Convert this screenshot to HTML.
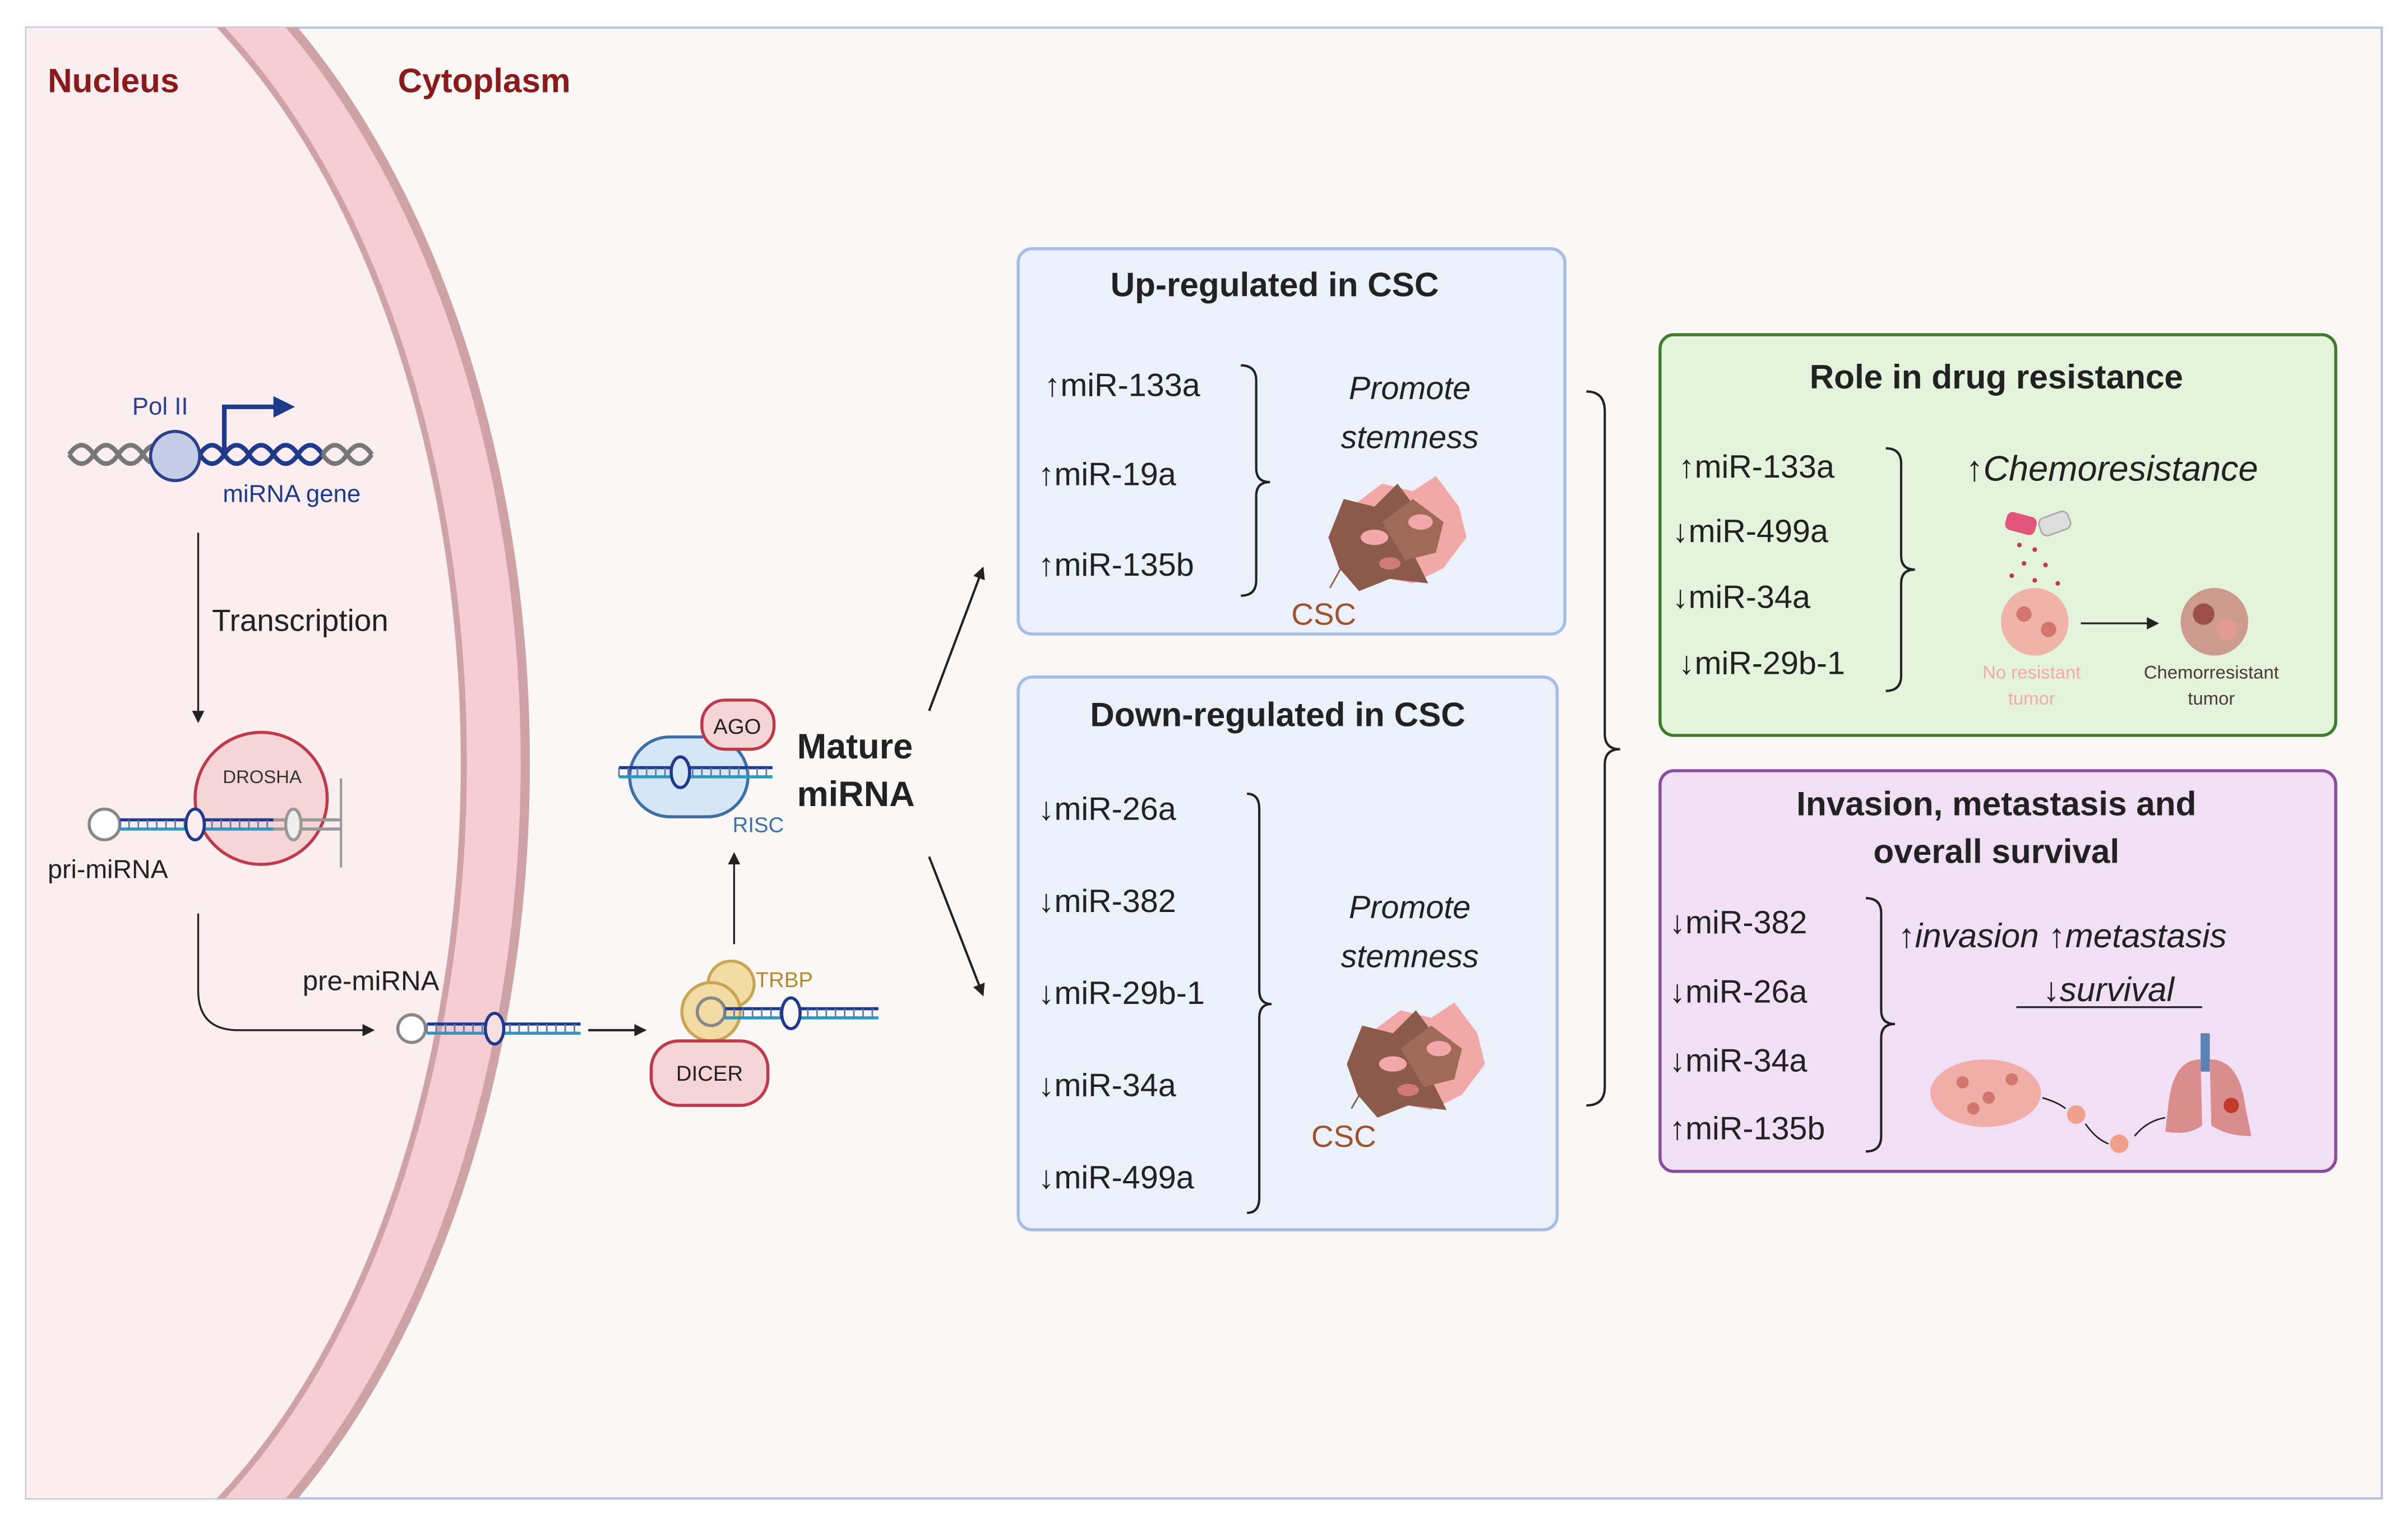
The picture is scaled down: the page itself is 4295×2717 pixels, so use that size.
<!DOCTYPE html>
<html><head><meta charset="utf-8"><style>
html,body{margin:0;padding:0;background:#fff;width:4295px;height:2717px;overflow:hidden;}
svg{display:block;}
text{font-family:"Liberation Sans",sans-serif;}
</style></head><body>
<svg width="4295" height="2717" viewBox="0 0 1568 992" xmlns="http://www.w3.org/2000/svg">
<defs>
<clipPath id="c"><rect x="17" y="18" width="1534" height="958"/></clipPath>
<marker id="ah" markerWidth="8" markerHeight="8" refX="7" refY="4" orient="auto" markerUnits="userSpaceOnUse"><path d="M0,0 L8,4 L0,8 z" fill="#222"/></marker>
<g id="cell">
<path d="M-40,10 L-30,-15 L-10,-30 L10,-25 L25,-35 L40,-15 L45,5 L30,25 L10,35 L-15,30 L-35,28 z" fill="#f1a9a8"/>
<path d="M-45,5 L-35,-20 L-15,-15 L0,-30 L15,-10 L10,15 L20,35 L-5,32 L-25,40 L-38,25 z" fill="#8c5a4a"/>
<path d="M-10,-5 L10,-20 L30,-5 L25,15 L5,20 z" fill="#a06a58"/>
<ellipse cx="-15" cy="5" rx="9" ry="5" fill="#f3a7a8"/>
<ellipse cx="15" cy="-5" rx="8" ry="5" fill="#f3a7a8"/>
<ellipse cx="-5" cy="22" rx="7" ry="4" fill="#d27a78"/>
</g>
<g id="hp">
<line x1="0" y1="-3" x2="100" y2="-3" stroke="#1f3a8a" stroke-width="2"/>
<line x1="0" y1="3" x2="100" y2="3" stroke="#2a9ac0" stroke-width="2"/>
<path d="M0,-3 V3 M6,-3 V3 M12,-3 V3 M18,-3 V3 M24,-3 V3 M30,-3 V3 M36,-3 V3 M42,-3 V3 M48,-3 V3 M54,-3 V3 M60,-3 V3 M66,-3 V3 M72,-3 V3 M78,-3 V3 M84,-3 V3 M90,-3 V3 M96,-3 V3" stroke="#5a7ab0" stroke-width="1"/>
</g>
</defs>
<rect x="0" y="0" width="1568" height="992" fill="#fff"/>
<rect x="17" y="18" width="1534" height="958" fill="#faf8f7" stroke="#b8c4dc" stroke-width="1.5"/>
<g clip-path="url(#c)">
<ellipse cx="-40" cy="497" rx="385" ry="600" fill="#fbeef0"/>
<ellipse cx="-40" cy="497" rx="362" ry="585" fill="none" stroke="#f6cdd0" stroke-width="36"/>
<ellipse cx="-40" cy="497" rx="382" ry="600" fill="none" stroke="#cfa2a6" stroke-width="6"/>
<ellipse cx="-40" cy="497" rx="342" ry="568" fill="none" stroke="#cfa2a6" stroke-width="4"/>
</g>
<text x="31" y="60" font-size="22" font-weight="bold" fill="#8b1a1a">Nucleus</text>
<text x="259" y="60" font-size="22" font-weight="bold" fill="#8b1a1a">Cytoplasm</text>

<path d="M45,296 q8,-12 16,0 t16,0 t16,0 t16,0" stroke="#777" stroke-width="3" fill="none"/>
<path d="M45,296 q8,12 16,0 t16,0 t16,0 t16,0" stroke="#777" stroke-width="3" fill="none"/>
<path d="M130,296 q8,-12 16,0 t16,0 t16,0 t16,0 t16,0" stroke="#1f3a8a" stroke-width="3" fill="none"/>
<path d="M130,296 q8,12 16,0 t16,0 t16,0 t16,0 t16,0" stroke="#1f3a8a" stroke-width="3" fill="none"/>
<path d="M210,296 q8,-12 16,0 t16,0" stroke="#777" stroke-width="3" fill="none"/>
<path d="M210,296 q8,12 16,0 t16,0" stroke="#777" stroke-width="3" fill="none"/>
<circle cx="114" cy="297" r="16" fill="#c5cde6" stroke="#2c3e8c" stroke-width="2"/>
<path d="M146,296 V265 H180" stroke="#1f3a8a" stroke-width="3" fill="none"/>
<path d="M178,258 L192,265 L178,272 z" fill="#1f3a8a"/>
<text x="86" y="270" font-size="16" fill="#2c3e8c">Pol II</text>
<text x="145" y="327" font-size="16" fill="#1f3a8a">miRNA gene</text>
<line x1="129" y1="347" x2="129" y2="470" stroke="#222" stroke-width="1.2" marker-end="url(#ah)"/>
<text x="138" y="411" font-size="20" fill="#222">Transcription</text>

<circle cx="170" cy="520" r="43" fill="#f5d5d5" stroke="#c0394b" stroke-width="2"/>
<text x="145" y="510" font-size="12" fill="#333">DROSHA</text>
<circle cx="68" cy="537" r="10" fill="#fff" stroke="#888" stroke-width="2"/>
<use href="#hp" x="78" y="537"/>
<line x1="178" y1="534" x2="222" y2="534" stroke="#999" stroke-width="2"/>
<line x1="178" y1="540" x2="222" y2="540" stroke="#999" stroke-width="2"/>
<ellipse cx="127" cy="537" rx="6" ry="10" fill="#fbeef0" stroke="#1f3a8a" stroke-width="2"/>
<ellipse cx="191" cy="537" rx="5" ry="10" fill="#eee" stroke="#999" stroke-width="2"/>
<line x1="222" y1="507" x2="222" y2="565" stroke="#999" stroke-width="1.5"/>
<text x="31" y="572" font-size="17" fill="#222">pri-miRNA</text>
<path d="M129,595 V645 Q129,671 155,671 H243" stroke="#222" stroke-width="1.2" fill="none" marker-end="url(#ah)"/>
<text x="197" y="645" font-size="18" fill="#222">pre-miRNA</text>
<circle cx="268" cy="670" r="9" fill="#fff" stroke="#888" stroke-width="2"/>
<use href="#hp" x="278" y="670"/>
<ellipse cx="322" cy="670" rx="6" ry="10" fill="#f5dfe0" stroke="#1f3a8a" stroke-width="2"/>
<line x1="383" y1="671" x2="420" y2="671" stroke="#222" stroke-width="1.5" marker-end="url(#ah)"/>

<circle cx="476" cy="641" r="15" fill="#f3dca3" stroke="#c9a554" stroke-width="2"/>
<circle cx="463" cy="659" r="19" fill="#f3dca3" stroke="#c9a554" stroke-width="2"/>
<circle cx="463" cy="659" r="9" fill="none" stroke="#888" stroke-width="2"/>
<use href="#hp" x="472" y="660"/>
<ellipse cx="515" cy="660" rx="6" ry="10" fill="#faf8f7" stroke="#1f3a8a" stroke-width="2"/>
<text x="492" y="643" font-size="14" fill="#b58a2f">TRBP</text>
<rect x="424" y="678" width="76" height="42" rx="18" fill="#f5d5d5" stroke="#c0394b" stroke-width="2"/>
<text x="462" y="704" font-size="14" fill="#222" text-anchor="middle">DICER</text>
<line x1="478" y1="615" x2="478" y2="556" stroke="#222" stroke-width="1.2" marker-end="url(#ah)"/>

<rect x="410" y="480" width="77" height="52" rx="26" fill="#d6e6f6" stroke="#3f6fa8" stroke-width="2"/>
<use href="#hp" x="403" y="503"/>
<ellipse cx="443" cy="503" rx="6" ry="10" fill="#d6e6f6" stroke="#1f3a8a" stroke-width="2"/>
<rect x="457" y="456" width="47" height="32" rx="15" fill="#f5d5d5" stroke="#c0394b" stroke-width="2"/>
<text x="480" y="478" font-size="14" fill="#222" text-anchor="middle">AGO</text>
<text x="477" y="542" font-size="14" fill="#3f6fa8">RISC</text>
<text x="519" y="494" font-size="23" font-weight="bold" fill="#222">Mature</text>
<text x="519" y="525" font-size="23" font-weight="bold" fill="#222">miRNA</text>
<line x1="605" y1="463" x2="640" y2="370" stroke="#222" stroke-width="1.5" marker-end="url(#ah)"/>
<line x1="605" y1="558" x2="640" y2="648" stroke="#222" stroke-width="1.5" marker-end="url(#ah)"/>

<rect x="663" y="162" width="356" height="251" rx="9" fill="#eaf1fb" stroke="#a6bde6" stroke-width="2"/>
<text x="830" y="193" font-size="22" font-weight="bold" fill="#222" text-anchor="middle">Up-regulated in CSC</text>
<g font-size="21" fill="#222">
<text x="680" y="258">↑miR-133a</text>
<text x="676" y="316">↑miR-19a</text>
<text x="676" y="375">↑miR-135b</text>
</g>
<path d="M808,238 Q818,238 818,248 V305 Q818,314 827,314 Q818,314 818,323 V378 Q818,388 808,388" stroke="#222" stroke-width="1.5" fill="none"/>
<text x="918" y="260" font-size="21" font-style="italic" fill="#222" text-anchor="middle">Promote</text>
<text x="918" y="292" font-size="21" font-style="italic" fill="#222" text-anchor="middle">stemness</text>
<use href="#cell" x="910" y="345"/>
<line x1="866" y1="383" x2="876" y2="365" stroke="#8c5a4a" stroke-width="1"/>
<text x="862" y="407" font-size="20" fill="#a0522d" text-anchor="middle">CSC</text>

<rect x="663" y="441" width="351" height="360" rx="9" fill="#eaf1fb" stroke="#a6bde6" stroke-width="2"/>
<text x="832" y="473" font-size="22" font-weight="bold" fill="#222" text-anchor="middle">Down-regulated in CSC</text>
<g font-size="21" fill="#222">
<text x="676" y="534">↓miR-26a</text>
<text x="676" y="594">↓miR-382</text>
<text x="676" y="654">↓miR-29b-1</text>
<text x="676" y="714">↓miR-34a</text>
<text x="676" y="774">↓miR-499a</text>
</g>
<path d="M812,517 Q820,517 820,527 V645 Q820,654 828,654 Q820,654 820,663 V780 Q820,790 812,790" stroke="#222" stroke-width="1.5" fill="none"/>
<text x="918" y="598" font-size="21" font-style="italic" fill="#222" text-anchor="middle">Promote</text>
<text x="918" y="630" font-size="21" font-style="italic" fill="#222" text-anchor="middle">stemness</text>
<use href="#cell" x="922" y="688"/>
<line x1="880" y1="722" x2="890" y2="705" stroke="#8c5a4a" stroke-width="1"/>
<text x="875" y="747" font-size="20" fill="#a0522d" text-anchor="middle">CSC</text>

<path d="M1033,255 Q1045,255 1045,268 V478 Q1045,488 1055,488 Q1045,488 1045,498 V708 Q1045,720 1033,720" stroke="#222" stroke-width="1.5" fill="none"/>

<rect x="1081" y="218" width="440" height="261" rx="9" fill="#e4f3dc" stroke="#3f7d2a" stroke-width="2"/>
<text x="1300" y="253" font-size="22" font-weight="bold" fill="#222" text-anchor="middle">Role in drug resistance</text>
<g font-size="21" fill="#222">
<text x="1093" y="311">↑miR-133a</text>
<text x="1089" y="353">↓miR-499a</text>
<text x="1089" y="396">↓miR-34a</text>
<text x="1093" y="439">↓miR-29b-1</text>
</g>
<path d="M1228,292 Q1238,292 1238,302 V362 Q1238,371 1247,371 Q1238,371 1238,380 V440 Q1238,450 1228,450" stroke="#222" stroke-width="1.5" fill="none"/>
<text x="1280" y="313" font-size="23" font-style="italic" fill="#222">↑Chemoresistance</text>
<rect x="1306" y="335" width="20" height="12" rx="4" fill="#e0557a" transform="rotate(15 1316 341)"/>
<rect x="1328" y="335" width="20" height="12" rx="4" fill="#ddd" stroke="#aaa" stroke-width="1" transform="rotate(-20 1338 341)"/>
<g fill="#c0394b"><circle cx="1315" cy="355" r="1.5"/><circle cx="1325" cy="358" r="1.5"/><circle cx="1318" cy="367" r="1.5"/><circle cx="1332" cy="368" r="1.5"/><circle cx="1310" cy="375" r="1.5"/><circle cx="1325" cy="378" r="1.5"/><circle cx="1340" cy="380" r="1.5"/></g>
<circle cx="1325" cy="405" r="22" fill="#f1a49a" opacity="0.8"/>
<circle cx="1318" cy="400" r="5" fill="#d2776e"/><circle cx="1334" cy="410" r="5" fill="#d2776e"/>
<line x1="1355" y1="406" x2="1405" y2="406" stroke="#222" stroke-width="1.2" marker-end="url(#ah)"/>
<circle cx="1442" cy="405" r="22" fill="#c98a80" opacity="0.85"/>
<circle cx="1435" cy="400" r="7" fill="#9c4f48"/><circle cx="1450" cy="410" r="7" fill="#e09a8f"/>
<text x="1323" y="442" font-size="12" fill="#f2a9a9" text-anchor="middle">No resistant</text>
<text x="1323" y="459" font-size="12" fill="#f2a9a9" text-anchor="middle">tumor</text>
<text x="1440" y="442" font-size="12" fill="#4a3a36" text-anchor="middle">Chemorresistant</text>
<text x="1440" y="459" font-size="12" fill="#4a3a36" text-anchor="middle">tumor</text>

<rect x="1081" y="502" width="440" height="261" rx="9" fill="#f1dff6" stroke="#8e4a9f" stroke-width="2"/>
<text x="1300" y="531" font-size="22" font-weight="bold" fill="#222" text-anchor="middle">Invasion, metastasis and</text>
<text x="1300" y="562" font-size="22" font-weight="bold" fill="#222" text-anchor="middle">overall survival</text>
<g font-size="21" fill="#222">
<text x="1087" y="608">↓miR-382</text>
<text x="1087" y="653">↓miR-26a</text>
<text x="1087" y="698">↓miR-34a</text>
<text x="1087" y="742">↑miR-135b</text>
</g>
<path d="M1215,585 Q1225,585 1225,595 V658 Q1225,667 1234,667 Q1225,667 1225,676 V740 Q1225,750 1215,750" stroke="#222" stroke-width="1.5" fill="none"/>
<text x="1236" y="617" font-size="22" font-style="italic" fill="#222">↑invasion ↑metastasis</text>
<text x="1373" y="652" font-size="22" font-style="italic" fill="#222" text-anchor="middle">↓survival</text>
<line x1="1313" y1="656" x2="1434" y2="656" stroke="#222" stroke-width="1.2"/>
<ellipse cx="1293" cy="712" rx="36" ry="22" fill="#f1a49a" opacity="0.85"/>
<g fill="#d2776e"><circle cx="1278" cy="705" r="4"/><circle cx="1295" cy="715" r="4"/><circle cx="1310" cy="703" r="4"/><circle cx="1285" cy="722" r="4"/></g>
<path d="M1330,715 Q1340,718 1345,722" stroke="#222" fill="none" stroke-width="1"/>
<circle cx="1352" cy="726" r="6" fill="#f0a08a"/>
<path d="M1358,732 Q1365,742 1373,745" stroke="#222" fill="none" stroke-width="1"/>
<circle cx="1380" cy="745" r="6" fill="#f0a08a"/>
<path d="M1390,740 Q1398,730 1410,728" stroke="#222" fill="none" stroke-width="1"/>
<rect x="1433" y="673" width="6" height="25" fill="#5b82b5"/>
<path d="M1433,690 Q1415,690 1412,720 L1410,737 Q1425,740 1434,733 z" fill="#d98d8d"/>
<path d="M1439,690 Q1458,690 1462,720 L1466,740 Q1450,740 1440,733 z" fill="#d98d8d"/>
<circle cx="1453" cy="720" r="5" fill="#c0392b"/>
</svg>
</body></html>
